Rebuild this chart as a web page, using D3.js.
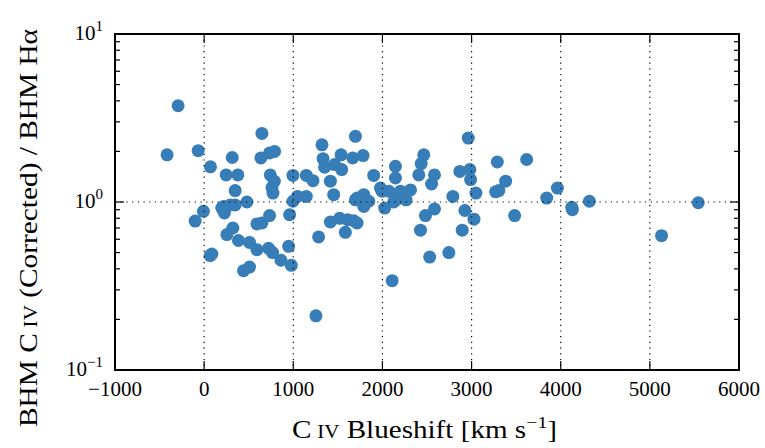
<!DOCTYPE html>
<html>
<head>
<meta charset="utf-8">
<script src="https://cdn.jsdelivr.net/npm/d3@7"></script>
<style>
  body { margin: 0; background: #fff; }
  text { font-family: "Liberation Serif", "DejaVu Serif", serif; fill: #000; }
</style>
</head>
<body>
<div id="chart"></div>
<script>
// blueshift (km/s)
const blueshift = [
  -416, -292, -101, -67, -8, 71, 67, 86, 198, 217, 227, 247, 255, 292, 315, 322,
  348, 348, 378, 385, 480, 442, 509, 509, 592, 592, 637, 648, 648, 734, 790, 742,
  787, 761, 772, 734, 723, 768, 862, 948, 978, 959, 996, 996, 1048, 1146, 1146, 1221,
  1254, 1284, 1322, 1334, 1352, 1416, 1464, 1453, 1416, 1520, 1610, 1584, 1677, 1716,
  1543, 1536, 1666, 1697, 1783, 1697, 1716, 1791, 1791, 1847, 1902, 1978, 1996, 2025,
  2071, 2109, 2127, 2146, 2146, 2154, 2202, 2247, 2266, 2315, 2408, 2435, 2464, 2427,
  2483, 2530, 2551, 2584, 2584, 2745, 2790, 2868, 2895, 2925, 2963, 2981, 2989, 3027,
  3049, 3289, 3270, 3306, 3382, 3483, 3618, 3843, 3963, 4124, 4131, 4322, 5131, 5543
];
// BHM CIV (corrected) / BHM Halpha
const ratio = [
  1.91, 3.74, 0.77, 2.02, 0.88, 1.62, 0.48, 0.49, 0.92, 0.94, 0.86, 1.45, 0.64, 0.96, 1.84, 0.70,
  1.17, 0.96, 1.45, 0.59, 1.0, 0.39, 0.41, 0.575, 0.52, 0.74, 1.83, 2.56, 0.75, 1.96, 2.0, 1.45,
  1.33, 1.22, 1.13, 0.83, 0.53, 0.50, 0.45, 0.545, 0.42, 0.84, 1.44, 1.01, 1.08, 1.44, 1.08, 1.34,
  0.21, 0.62, 2.19, 1.81, 1.61, 1.33, 1.67, 1.105, 0.76, 0.80, 0.785, 0.66, 0.774, 0.75,
  1.56, 1.91, 1.83, 2.46, 1.89, 1.03, 1.055, 1.105, 0.94, 1.01, 1.44, 1.21, 1.16, 0.92,
  1.16, 0.34, 1.0, 1.63, 1.39, 1.03, 1.16, 1.055, 1.03, 1.18, 1.45, 1.69, 1.91, 0.68,
  0.83, 0.47, 1.28, 1.45, 0.91, 0.50, 1.08, 1.52, 0.68, 0.89, 2.40, 1.56, 1.36, 0.79,
  1.13, 1.73, 1.15, 1.17, 1.33, 0.83, 1.79, 1.055, 1.21, 0.93, 0.90, 1.01, 0.63, 0.99
];
const xTicks = [-1000, 0, 1000, 2000, 3000, 4000, 5000, 6000];
const yTicks = [0.1, 1, 10];
const yExps = ['\u22121', '0', '1'];

const W = 765, H = 448;
const margin = { top: 34, right: 26, bottom: 78, left: 115 };
const width = W - margin.left - margin.right;
const height = H - margin.top - margin.bottom;

const svg = d3.select('#chart').append('svg')
    .attr('width', W).attr('height', H);
const g = svg.append('g').attr('transform', `translate(${margin.left},${margin.top})`);

const x = d3.scaleLinear().domain([-1000, 6000]).range([0, width]);
const y = d3.scaleLog().domain([0.1, 10]).range([height, 0]);

const data = blueshift.map((b, i) => ({ b, r: ratio[i] }));

// points
g.selectAll('circle').data(data).enter().append('circle')
    .attr('cx', d => x(d.b))
    .attr('cy', d => y(d.r))
    .attr('r', 6.5)
    .style('fill', '#377eb8');

// grid (drawn above points)
g.selectAll('.vgrid').data(xTicks.slice(1, -1)).enter().append('line')
    .attr('x1', d => x(d)).attr('x2', d => x(d))
    .attr('y1', 0).attr('y2', height)
    .style('stroke', '#000').style('stroke-width', 1.2).style('stroke-dasharray', '1.2,4.5');
g.append('line')
    .attr('x1', 0).attr('x2', width).attr('y1', y(1)).attr('y2', y(1))
    .style('stroke', '#000').style('stroke-width', 1.2).style('stroke-dasharray', '1.2,4.5');

// ticks: inner, all four sides
const minor = [];
[0.1, 1].forEach(dec => { for (let k = 2; k <= 9; k++) minor.push(dec * k); });

const tickG = g.append('g').style('stroke', '#000').style('stroke-width', 1.2);
xTicks.forEach(t => {
    tickG.append('line').attr('x1', x(t)).attr('x2', x(t)).attr('y1', height).attr('y2', height - 9);
    tickG.append('line').attr('x1', x(t)).attr('x2', x(t)).attr('y1', 0).attr('y2', 9);
});
yTicks.forEach(t => {
    tickG.append('line').attr('x1', 0).attr('x2', 9).attr('y1', y(t)).attr('y2', y(t));
    tickG.append('line').attr('x1', width).attr('x2', width - 9).attr('y1', y(t)).attr('y2', y(t));
});
minor.forEach(t => {
    tickG.append('line').attr('x1', 0).attr('x2', 5).attr('y1', y(t)).attr('y2', y(t));
    tickG.append('line').attr('x1', width).attr('x2', width - 5).attr('y1', y(t)).attr('y2', y(t));
});

// frame
g.append('rect').attr('width', width).attr('height', height)
    .style('fill', 'none').style('stroke', '#000').style('stroke-width', 2);

// x tick labels
g.selectAll('.xl').data(xTicks).enter().append('text')
    .attr('x', d => x(d)).attr('y', height + 26)
    .attr('text-anchor', 'middle')
    .style('font-size', '21px')
    .text(d => d < 0 ? '\u2212' + Math.abs(d) : d);

// y tick labels 10^n
yTicks.forEach((t, i) => {
    const tx = g.append('text')
        .attr('x', -12).attr('y', y(t) + 6)
        .attr('text-anchor', 'end')
        .style('font-size', '21px');
    tx.append('tspan').text('10');
    tx.append('tspan').attr('dy', -9).style('font-size', '15px').text(yExps[i]);
});

// x axis label
const xl = svg.append('text')
    .attr('x', 292).attr('y', 438)
    .attr('textLength', 265).attr('lengthAdjust', 'spacingAndGlyphs')
    .style('font-size', '25px');
xl.append('tspan').text('C\u2009');
xl.append('tspan').style('font-size', '18px').text('IV');
xl.append('tspan').text(' Blueshift [km s');
xl.append('tspan').attr('dy', -10).style('font-size', '17px').text('\u22121');
xl.append('tspan').attr('dy', 10).text(']');

// y axis label
const yl = svg.append('text')
    .attr('transform', 'translate(37,427) rotate(-90)')
    .attr('textLength', 398).attr('lengthAdjust', 'spacingAndGlyphs')
    .style('font-size', '25px');
yl.append('tspan').text('BHM C\u2009');
yl.append('tspan').style('font-size', '18px').text('IV');
yl.append('tspan').text(' (Corrected) / BHM H\u03b1');
</script>
</body>
</html>
